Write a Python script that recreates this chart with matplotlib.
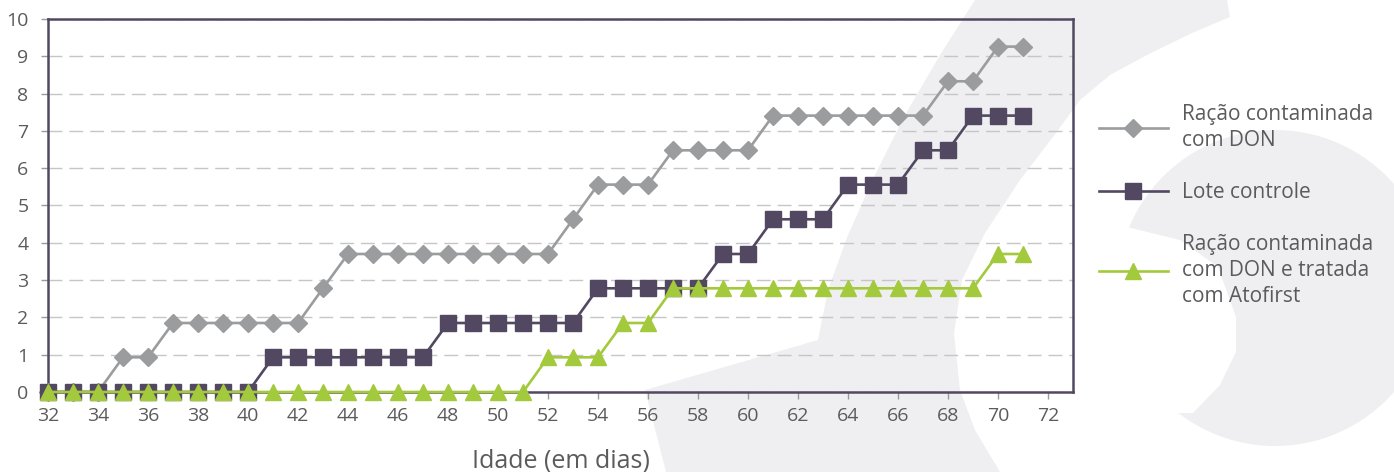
"""Mortalidade acumulada (%) por idade - tres lotes"""
import matplotlib
matplotlib.use('Agg')
import matplotlib.pyplot as plt
from matplotlib.patches import Polygon, Circle

plt.rcParams['font.family'] = ['Open Sans', 'DejaVu Sans']

# dados (mortalidade acumulada, %)
dias = list(range(32, 72))
don = [0, 0, 0, 0.93, 0.93, 1.85, 1.85, 1.85, 1.85, 1.85, 1.85, 2.78, 3.70, 3.70,
       3.70, 3.70, 3.70, 3.70, 3.70, 3.70, 3.70, 4.63, 5.56, 5.56, 5.56, 6.48, 6.48,
       6.48, 6.48, 7.41, 7.41, 7.41, 7.41, 7.41, 7.41, 7.41, 8.33, 8.33, 9.26, 9.26]
controle = [0, 0, 0, 0, 0, 0, 0, 0, 0, 0.93, 0.93, 0.93, 0.93, 0.93, 0.93, 0.93,
            1.85, 1.85, 1.85, 1.85, 1.85, 1.85, 2.78, 2.78, 2.78, 2.78, 2.78, 3.70,
            3.70, 4.63, 4.63, 4.63, 5.56, 5.56, 5.56, 6.48, 6.48, 7.41, 7.41, 7.41]
atofirst = [0, 0, 0, 0, 0, 0, 0, 0, 0, 0, 0, 0, 0, 0, 0, 0, 0, 0, 0, 0, 0.93, 0.93,
            0.93, 1.85, 1.85, 2.78, 2.78, 2.78, 2.78, 2.78, 2.78, 2.78, 2.78, 2.78,
            2.78, 2.78, 2.78, 2.78, 3.70, 3.70]

labels = ['Ração contaminada\ncom DON',
          'Lote controle',
          'Ração contaminada\ncom DON e tratada\ncom Atofirst']

gray = '#9a9c9d'
purple = '#524862'
green = '#a3c93c'
text_col = '#5b5b5e'
wm = '#efeff2'

fig = plt.figure(figsize=(13.94, 4.72), dpi=100)

# marca d'agua ao fundo (coordenadas em pixels da figura)
bg = fig.add_axes([0, 0, 1, 1], zorder=0)
bg.set_xlim(0, 1394)
bg.set_ylim(472, 0)
bg.axis('off')
c_band = [(975, 0), (940, 55), (905, 115), (875, 175), (848, 235), (828, 290),
          (818, 340), (645, 390), (666, 472), (1000, 472), (975, 430), (960, 390),
          (954, 333), (962, 280), (985, 233), (1020, 180), (1056, 133), (1080, 100),
          (1110, 75), (1147, 55), (1192, 33), (1230, 17), (1227, 0)]
bg.add_patch(Polygon(c_band, closed=True, fc=wm, ec='none'))
bg.add_patch(Circle((1275, 288), 158, fc=wm, ec='none'))
notch = [(1100, 227), (1127, 227), (1180, 240), (1218, 267), (1236, 317),
         (1236, 352), (1220, 385), (1193, 413), (1100, 413)]
bg.add_patch(Polygon(notch, closed=True, fc='white', ec='none'))

ax = fig.add_axes([48 / 1394, 80 / 472, 1025 / 1394, 373 / 472], zorder=1)
ax.set_facecolor('none')

ax.plot(dias, don, color=gray, lw=1.9, marker='D', ms=9, mfc=gray, mec=gray,
        label=labels[0], zorder=3, clip_on=False)
ax.plot(dias, controle, color=purple, lw=1.9, marker='s', ms=12, mfc=purple,
        mec=purple, label=labels[1], zorder=4, clip_on=False)
ax.plot(dias, atofirst, color=green, lw=1.9, marker='^', ms=11, mfc=green,
        mec=green, label=labels[2], zorder=5, clip_on=False)

ax.set_xlim(32, 73)
ax.set_ylim(0, 10)
ax.set_xticks(range(32, 73, 2))
ax.set_yticks(range(0, 11))
ax.yaxis.grid(True, color='#c6c6c6', lw=1.0, dashes=(10, 5))
ax.set_axisbelow(True)

for s in ax.spines.values():
    s.set_color(purple)
    s.set_linewidth(1.8)

ax.tick_params(axis='both', direction='out', length=5, width=1, color='#9a9a9a',
               labelsize=14, labelcolor=text_col)
ax.tick_params(axis='x', pad=6)
ax.tick_params(axis='y', pad=9)
ax.set_xlabel('Idade (em dias)', fontsize=18, color=text_col, labelpad=17)

leg = fig.legend(loc='upper left', bbox_to_anchor=(1080 / 1394, 1 - 85 / 472),
                 frameon=False, fontsize=15, labelcolor=text_col, numpoints=1,
                 handlelength=3.3, handletextpad=0.7, labelspacing=1.5)
for t in leg.get_texts():
    t.set_linespacing(1.3)

fig.savefig('out.png', dpi=100)
